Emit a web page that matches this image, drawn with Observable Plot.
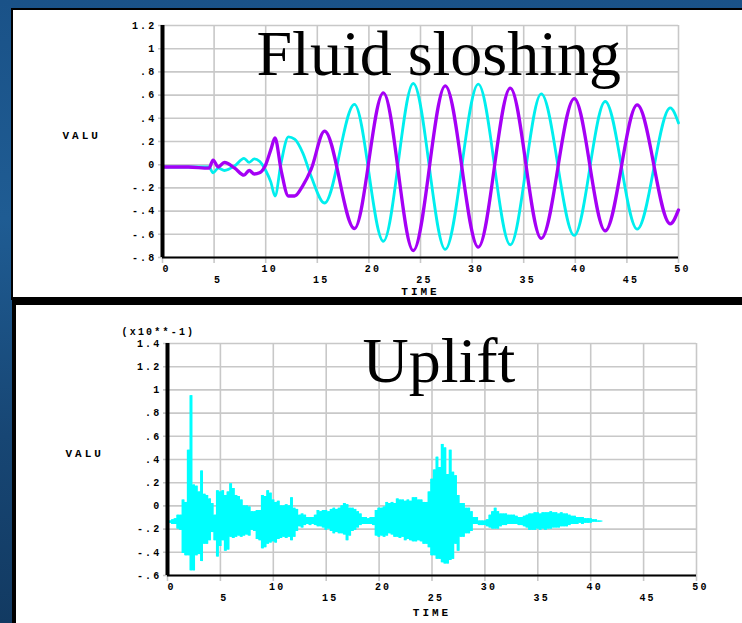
<!DOCTYPE html>
<html><head><meta charset="utf-8">
<script src="https://cdn.jsdelivr.net/npm/d3@7"></script>
<script src="https://cdn.jsdelivr.net/npm/@observablehq/plot@0.6"></script>
<style>
html,body{margin:0;padding:0;}
body{width:742px;height:623px;overflow:hidden;position:relative;background:linear-gradient(180deg,#1a5288 0%,#1f5c93 35%,#174674 70%,#123a62 100%);}
#p1{position:absolute;left:11px;top:8px;width:760px;height:287px;background:#fff;border:2px solid #000;border-bottom-width:3px;}
#p2{position:absolute;left:12px;top:300px;width:760px;height:340px;background:#fff;border-left:4px solid #000;border-top:5px solid #000;}
#c1{position:absolute;left:0;top:0;z-index:2;}
#c2{position:absolute;left:0;top:300px;z-index:1;}
</style></head><body>
<div id="p1"></div><div id="p2"></div><div id="c1"></div><div id="c2"></div>
<script>
// ---------- Data: Fluid sloshing ----------
const sloshTime   = [0, 2.5, 4.5, 4.9, 5.4, 6.0, 7.0, 7.9, 8.4, 8.9, 9.4, 10.0, 10.5, 10.9, 11.5, 12.2, 12.8, 13.6, 14.4, 15.7, 18.6, 21.4, 24.3, 27.4, 30.6, 33.7, 36.7, 39.9, 42.9, 46.0, 49.2, 50];
const sloshCyan   = [-0.02, -0.02, -0.02, -0.07, -0.03, -0.05, -0.01, 0.055, 0.02, 0.05, 0.03, -0.05, -0.15, -0.27, 0.02, 0.24, 0.22, 0.10, -0.10, -0.33, 0.52, -0.66, 0.70, -0.73, 0.695, -0.69, 0.61, -0.61, 0.545, -0.555, 0.49, 0.36];
const sloshPurple = [-0.02, -0.02, -0.03, 0.04, -0.02, 0.02, -0.03, -0.09, -0.05, -0.08, -0.07, 0.0, 0.13, 0.23, -0.05, -0.27, -0.27, -0.18, -0.04, 0.29, -0.55, 0.62, -0.74, 0.68, -0.71, 0.66, -0.635, 0.57, -0.57, 0.515, -0.51, -0.39];

// ---------- Data: Uplift (x10**-1), upper/lower extent of the signal ----------
const uplTime = [0,0.25,0.5,0.75, 1,1.25,1.5,1.75, 2,2.25,2.5,2.75, 3,3.25,3.5,3.75, 4,4.25,4.5,4.75, 5,5.25,5.5,5.75, 6,6.25,6.5,6.75, 7,7.25,7.5,7.75, 8,8.25,8.5,8.75, 9,9.25,9.5,9.75,
 10,10.25,10.5,10.75, 11,11.25,11.5,11.75, 12,12.25,12.5,12.75, 13,13.25,13.5,13.75, 14,14.25,14.5,14.75, 15,15.25,15.5,15.75, 16,16.25,16.5,16.75, 17,17.25,17.5,17.75, 18,18.25,18.5,18.75, 19,19.25,19.5,19.75,
 20,20.25,20.5,20.75, 21,21.25,21.5,21.75, 22,22.25,22.5,22.75, 23,23.25,23.5,23.75, 24,24.25,24.5,24.75, 25,25.25,25.5,25.75, 26,26.25,26.5,26.75, 27,27.25,27.5,27.75, 28,28.25,28.5,28.75, 29,29.25,29.5,29.75,
 30,30.25,30.5,30.75, 31,31.25,31.5,31.75, 32,32.25,32.5,32.75, 33,33.25,33.5,33.75, 34,34.25,34.5,34.75, 35,35.25,35.5,35.75, 36,36.25,36.5,36.75, 37,37.25,37.5,37.75, 38,38.25,38.5,38.75, 39,39.25,39.5,39.75,
 40,40.25,40.5,40.75, 41];
const uplHigh = [-0.12,-0.13,-0.12,-0.11, -0.08,-0.08,0.05,0.03, 0.48,0.95,0.18,0.17, 0.12,0.30,0.10,0.09, 0.06,0.02,-0.08,0.13, 0.12,0.13,0.09,0.12, 0.19,0.15,0.09,0.08, 0.05,0.00,0.00,-0.01, -0.05,-0.05,-0.04,-0.04, 0.09,0.08,0.13,0.11,
 0.05,0.03,0.04,0.00, 0.00,0.01,0.00,0.07, -0.02,-0.03,-0.08,-0.07, -0.08,-0.10,-0.10,-0.10, -0.08,-0.04,-0.05,-0.04, -0.04,-0.05,-0.03,-0.02, -0.03,-0.02,0.00,0.02, 0.01,-0.02,-0.02,-0.03, -0.05,-0.07,-0.10,-0.10, -0.11,-0.10,-0.10,-0.04,
 -0.02,-0.02,-0.01,0.03, 0.02,0.03,0.02,0.06, 0.05,0.05,0.04,0.05, 0.04,0.07,0.07,0.05, 0.05,0.03,0.03,0.12, 0.23,0.31,0.42,0.33, 0.53,0.50,0.27,0.48, 0.29,0.26,0.09,0.02, 0.02,-0.02,-0.02,-0.05, -0.10,-0.10,-0.13,-0.13,
 -0.13,-0.12,-0.08,-0.05, -0.02,-0.05,-0.07,-0.07, -0.07,-0.08,-0.08,-0.08, -0.09,-0.10,-0.10,-0.09, -0.08,-0.07,-0.07,-0.06, -0.06,-0.07,-0.06,-0.06, -0.06,-0.05,-0.06,-0.06, -0.07,-0.06,-0.07,-0.07, -0.08,-0.09,-0.09,-0.10, -0.10,-0.10,-0.11,-0.11,
 -0.11,-0.12,-0.12,-0.13, -0.13];
const uplLow = [-0.14,-0.15,-0.16,-0.16, -0.20,-0.21,-0.41,-0.43, -0.43,-0.56,-0.56,-0.43, -0.42,-0.48,-0.33,-0.33, -0.30,-0.23,-0.30,-0.44, -0.35,-0.30,-0.39,-0.38, -0.27,-0.28,-0.27,-0.26, -0.27,-0.26,-0.25,-0.26, -0.21,-0.22,-0.29,-0.30, -0.37,-0.36,-0.33,-0.32,
 -0.31,-0.32,-0.29,-0.28, -0.27,-0.28,-0.27,-0.30, -0.27,-0.22,-0.18,-0.19, -0.17,-0.16,-0.17,-0.16, -0.17,-0.18,-0.18,-0.19, -0.21,-0.20,-0.22,-0.24, -0.23,-0.24,-0.24,-0.25, -0.30,-0.26,-0.22,-0.21, -0.19,-0.17,-0.16,-0.16, -0.16,-0.16,-0.17,-0.26,
 -0.27,-0.26,-0.27,-0.26, -0.24,-0.25,-0.27,-0.27, -0.28,-0.27,-0.30,-0.29, -0.30,-0.31,-0.31,-0.30, -0.31,-0.33,-0.33,-0.36, -0.43,-0.43,-0.46,-0.46, -0.49,-0.50,-0.50,-0.47, -0.46,-0.33,-0.39,-0.27, -0.27,-0.24,-0.24,-0.22, -0.16,-0.16,-0.17,-0.17,
 -0.17,-0.18,-0.19,-0.20, -0.20,-0.20,-0.18,-0.17, -0.17,-0.16,-0.16,-0.16, -0.16,-0.17,-0.17,-0.18, -0.19,-0.21,-0.21,-0.21, -0.20,-0.21,-0.20,-0.21, -0.20,-0.20,-0.19,-0.19, -0.19,-0.18,-0.18,-0.18, -0.17,-0.16,-0.16,-0.16, -0.15,-0.16,-0.15,-0.15,
 -0.15,-0.14,-0.14,-0.14, -0.14];

// ---------- Ticks / labels ----------
const xTicks     = [0, 5, 10, 15, 20, 25, 30, 35, 40, 45, 50];
const xTicksEven = [0, 10, 20, 30, 40, 50];
const xTicksOdd  = [5, 15, 25, 35, 45];
const yTicks1  = [-0.8, -0.6, -0.4, -0.2, 0, 0.2, 0.4, 0.6, 0.8, 1, 1.2];
const yLabels1 = ["-.8", "-.6", "-.4", "-.2", "0", ".2", ".4", ".6", ".8", "1", "1.2"];
const yTicks2  = [-0.6, -0.4, -0.2, 0, 0.2, 0.4, 0.6, 0.8, 1, 1.2, 1.4];
const yLabels2 = ["-.6", "-.4", "-.2", "0", ".2", ".4", ".6", ".8", "1", "1.2", "1.4"];
const titles = ["Fluid sloshing", "Uplift"];
const axisNames = ["VALU", "TIME", "(x10**-1)"];

// ---------- Styles ----------
const GRID = "#c8c8c8";
const tickFont = {fontFamily: "Liberation Mono", fontWeight: "bold", fontSize: 10, fill: "#000"};
const nameFont = {fontFamily: "Liberation Mono", fontWeight: "bold", fontSize: 11, fill: "#000"};
const titleFont = {fontFamily: "Liberation Serif", fontSize: 64, fill: "#000"};

function axesMarks(yTicks, yLabels) {
  const ymap = new Map(yTicks.map((d, i) => [d, yLabels[i]]));
  return [
    Plot.axisX(xTicksEven, {tickSize: 0, tickPadding: 7, dx: 4, label: null, tickFormat: d => String(d), ...tickFont}),
    Plot.axisX(xTicksOdd,  {tickSize: 0, tickPadding: 18, dx: 4, label: null, tickFormat: d => String(d), ...tickFont}),
    Plot.axisY(yTicks, {tickSize: 0, tickPadding: 6, label: null, tickFormat: d => ymap.get(d), ...tickFont})
  ];
}

function finish(svg) {
  const s = d3.select(svg);
  s.selectAll("g").each(function () {
    const fs = this.getAttribute("font-size");
    if (fs === "64") this.style.letterSpacing = "0px";
    else if (fs === "11") this.style.letterSpacing = "3px";
    else if (fs === "10") this.style.letterSpacing = "2.2px";
  });
  return svg;
}

// ---------- Chart 1 ----------
const rows1 = sloshTime.map((t, i) => ({t, c: sloshCyan[i], p: sloshPurple[i]}));
const chart1 = Plot.plot({
  width: 742, height: 298,
  marginLeft: 162, marginRight: 64, marginTop: 25, marginBottom: 41,
  style: {background: "transparent", overflow: "visible"},
  x: {domain: [0, 50], label: null},
  y: {domain: [-0.8, 1.2], label: null},
  marks: [
    Plot.ruleX(xTicks, {stroke: GRID, strokeWidth: 1.6, insetBottom: -6}),
    Plot.ruleY(yTicks1, {stroke: GRID, strokeWidth: 1.6, insetLeft: -4}),
    Plot.text([titles[0]], {text: d => d, frameAnchor: "top-left", textAnchor: "start", lineAnchor: "middle", dx: 94, dy: 29, ...titleFont}),
    Plot.line(rows1, {x: "t", y: "c", stroke: "#00eeee", strokeWidth: 2.8, curve: "monotone-x"}),
    Plot.line(rows1, {x: "t", y: "p", stroke: "#a500f5", strokeWidth: 3.3, curve: "monotone-x"}),
    Plot.ruleX([0], {stroke: "#000", strokeWidth: 4}),
    Plot.ruleY([-0.8], {stroke: "#000", strokeWidth: 2.2}),
    ...axesMarks(yTicks1, yLabels1),
    Plot.text([axisNames[0]], {text: d => d, frameAnchor: "left", textAnchor: "start", dx: -100, dy: -6, ...nameFont}),
    Plot.text([axisNames[1]], {text: d => d, frameAnchor: "bottom", textAnchor: "middle", lineAnchor: "middle", dx: 0, dy: 34, ...nameFont})
  ]
});
document.getElementById("c1").appendChild(finish(chart1));

// ---------- Chart 2 ----------
const rows2 = uplTime.map((t, i) => ({t, hi: uplHigh[i], lo: uplLow[i]}));
const chart2 = Plot.plot({
  width: 742, height: 323,
  marginLeft: 167, marginRight: 46, marginTop: 43, marginBottom: 48,
  style: {background: "transparent", overflow: "visible"},
  x: {domain: [0, 50], label: null},
  y: {domain: [-0.6, 1.4], label: null},
  marks: [
    Plot.ruleX(xTicks, {stroke: GRID, strokeWidth: 1.6, insetBottom: -6}),
    Plot.ruleY(yTicks2, {stroke: GRID, strokeWidth: 1.6, insetLeft: -4}),
    Plot.text([titles[1]], {text: d => d, frameAnchor: "top-left", textAnchor: "start", lineAnchor: "middle", dx: 195, dy: 18, ...titleFont}),
    Plot.areaY(rows2, {x: "t", y1: "lo", y2: "hi", fill: "#00ffff", curve: "step"}),
    Plot.ruleX(rows2, {x: "t", y1: "lo", y2: "hi", stroke: "#00ffff", strokeWidth: 2.2}),
    Plot.ruleX([0], {stroke: "#000", strokeWidth: 4}),
    Plot.ruleY([-0.6], {stroke: "#000", strokeWidth: 2.2}),
    ...axesMarks(yTicks2, yLabels2),
    Plot.text([axisNames[0]], {text: d => d, frameAnchor: "left", textAnchor: "start", dx: -102, dy: -6, ...nameFont}),
    Plot.text([axisNames[1]], {text: d => d, frameAnchor: "bottom", textAnchor: "middle", lineAnchor: "middle", dx: 0, dy: 37, ...nameFont}),
    Plot.text([axisNames[2]], {text: d => d, frameAnchor: "top-left", textAnchor: "start", dx: -46, dy: -16, ...tickFont})
  ]
});
document.getElementById("c2").appendChild(finish(chart2));
</script></body></html>
